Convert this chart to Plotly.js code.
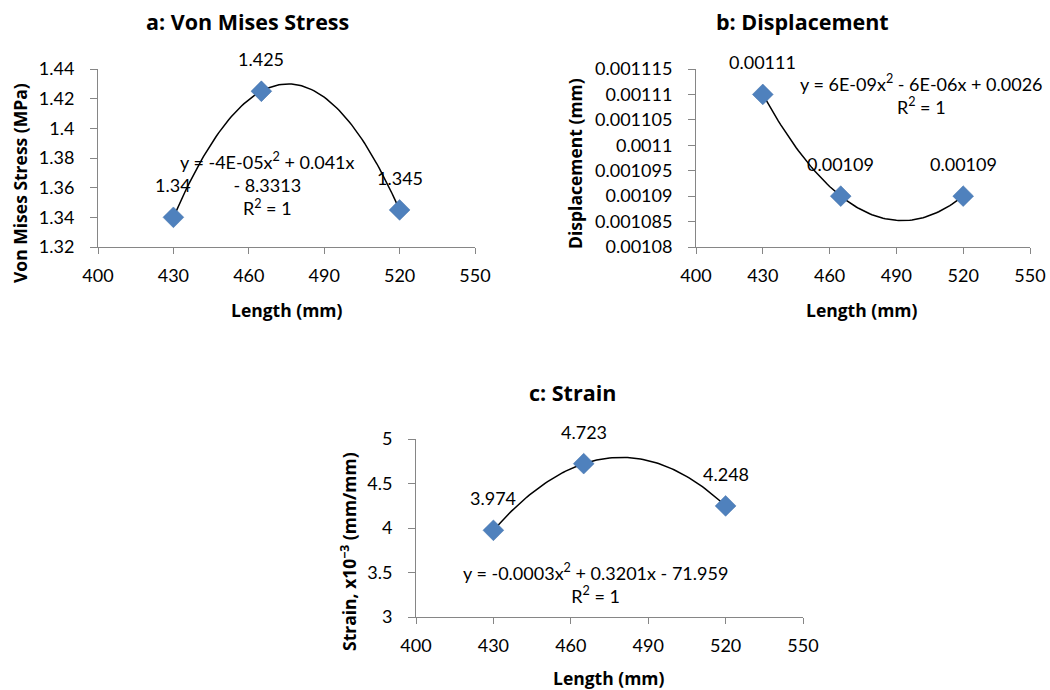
<!DOCTYPE html>
<html>
<head>
<meta charset="utf-8">
<script src="https://cdn.plot.ly/plotly-3.0.1.min.js"></script>
<style>html,body{margin:0;padding:0;background:#fff;}#chart{width:1050px;height:690px;}</style>
</head>
<body>
<div id="chart"></div>
<script>
// ---- Data ----
const lengths = [430, 465, 520];
const stress = [1.34, 1.425, 1.345];
const displacement = [0.00111, 0.00109, 0.00109];
const strain = [3.974, 4.723, 4.248];

const stressLabels = ['1.34', '1.425', '1.345'];
const displacementLabels = ['0.00111', '0.00109', '0.00109'];
const strainLabels = ['3.974', '4.723', '4.248'];

const xTicks = [400, 430, 460, 490, 520, 550];
const stressTicks = [1.32, 1.34, 1.36, 1.38, 1.4, 1.42, 1.44];
const stressTickText = ['1.32', '1.34', '1.36', '1.38', '1.4', '1.42', '1.44'];
const dispTicks = [0.00108, 0.001085, 0.00109, 0.001095, 0.0011, 0.001105, 0.00111, 0.001115];
const dispTickText = ['0.00108', '0.001085', '0.00109', '0.001095', '0.0011', '0.001105', '0.00111', '0.001115'];
const strainTicks = [3, 3.5, 4, 4.5, 5];
const strainTickText = ['3', '3.5', '4', '4.5', '5'];

const titles = ['a: Von Mises Stress', 'b: Displacement', 'c: Strain'];
const yTitles = ['Von Mises Stress (MPa)', 'Displacement (mm)', 'Strain, x10<sup>−3</sup> (mm/mm)'];
const xTitle = 'Length (mm)';
const equations = [
  'y = -4E-05x<sup>2</sup> + 0.041x<br>- 8.3313<br>R<sup>2</sup> = 1',
  'y = 6E-09x<sup>2</sup> - 6E-06x + 0.0026<br>R<sup>2</sup> = 1',
  'y = -0.0003x<sup>2</sup> + 0.3201x - 71.959<br>R<sup>2</sup> = 1'
];

// ---- Polynomial (order 2) trendline through the data, as Excel's trendline ----
function quadTrend(xs, ys) {
  const out = {x: [], y: []};
  const x0 = Math.min(...xs), x1 = Math.max(...xs);
  const n = 90;
  for (let i = 0; i <= n; i++) {
    const x = x0 + (x1 - x0) * i / n;
    let y = 0;
    for (let j = 0; j < xs.length; j++) {
      let l = 1;
      for (let k = 0; k < xs.length; k++) if (k !== j) l *= (x - xs[k]) / (xs[j] - xs[k]);
      y += ys[j] * l;
    }
    out.x.push(x); out.y.push(y);
  }
  return out;
}

const FONT = 'Lato, "Open Sans", sans-serif';
const BFONT = '"Open Sans", Lato, sans-serif';
const W = 1050, H = 690;
const px = v => v / W;
const py = v => 1 - v / H;

const series = [stress, displacement, strain];
const labels = [stressLabels, displacementLabels, strainLabels];
const traces = [];
series.forEach((ys, i) => {
  const sfx = i === 0 ? '' : String(i + 1);
  const t = quadTrend(lengths, ys);
  traces.push({x: t.x, y: t.y, xaxis: 'x' + sfx, yaxis: 'y' + sfx, mode: 'lines',
    line: {color: '#000', width: 1.5}, hoverinfo: 'skip', showlegend: false});
  traces.push({x: lengths, y: ys, xaxis: 'x' + sfx, yaxis: 'y' + sfx, mode: 'markers',
    marker: {symbol: 'diamond', size: 16, color: '#4F81BD', line: {color: '#3F6FA8', width: 0.5}},
    showlegend: false});
});

const lineCol = '#868686';
function xax(domain, anchor) {
  return {domain, anchor, range: [400, 550], tickmode: 'array', tickvals: xTicks,
    ticktext: xTicks.map(String), ticks: 'outside', ticklen: 6, tickcolor: lineCol,
    showline: true, linecolor: lineCol, linewidth: 1, showgrid: false, zeroline: false,
    tickfont: {family: FONT, size: 18, color: '#000'}, ticklabelstandoff: 6, fixedrange: true};
}
function yax(domain, anchor, range, vals, text) {
  return {domain, anchor, range, tickmode: 'array', tickvals: vals, ticktext: text,
    ticks: 'outside', ticklen: 7, tickcolor: lineCol, showline: true, linecolor: lineCol,
    linewidth: 1, showgrid: false, zeroline: false,
    tickfont: {family: FONT, size: 18, color: '#000'}, ticklabelstandoff: 12, fixedrange: true};
}

const annotations = [];
function ann(text, x, y, opts) {
  annotations.push(Object.assign({text, x: px(x), y: py(y), xref: 'paper', yref: 'paper',
    showarrow: false, xanchor: 'center', yanchor: 'middle',
    font: {family: FONT, size: 18, color: '#000'}}, opts || {}));
}
// titles
const titleFont = {family: BFONT, size: 21.5, color: '#000', weight: 'bold'};
ann(titles[0], 247, 22, {font: titleFont});
ann(titles[1], 802, 22, {font: titleFont});
ann(titles[2], 572, 392, {font: titleFont});
// axis titles
const boldAx = {family: BFONT, size: 17.5, color: '#000', weight: 'bold'};
ann(xTitle, 287, 310, {font: boldAx});
ann(xTitle, 862, 310, {font: boldAx});
ann(xTitle, 609, 678, {font: boldAx});
ann(yTitles[0], 20, 183, {font: boldAx, textangle: -90});
ann(yTitles[1], 575, 164, {font: boldAx, textangle: -90});
ann(yTitles[2], 348, 552, {font: boldAx, textangle: -90});
// equations
ann(equations[0], 267, 184);
ann(equations[1], 921, 94);
ann(equations[2], 595, 583);
// data labels
series.forEach((ys, i) => {
  const sfx = i === 0 ? '' : String(i + 1);
  ys.forEach((v, j) => {
    annotations.push({text: labels[i][j], x: lengths[j], y: v, xref: 'x' + sfx, yref: 'y' + sfx,
      showarrow: false, xanchor: 'center', yanchor: 'middle', yshift: 32,
      font: {family: FONT, size: 18, color: '#000'}});
  });
});

const layout = {
  width: W, height: H, margin: {l: 0, r: 0, t: 0, b: 0},
  paper_bgcolor: '#fff', plot_bgcolor: 'rgba(0,0,0,0)', showlegend: false,
  xaxis: xax([px(98), px(475)], 'y'),
  yaxis: yax([py(247), py(69)], 'x', [1.32, 1.44], stressTicks, stressTickText),
  xaxis2: xax([px(696), px(1030)], 'y2'),
  yaxis2: yax([py(247), py(69)], 'x2', [0.00108, 0.001115], dispTicks, dispTickText),
  xaxis3: xax([px(416), px(803)], 'y3'),
  yaxis3: yax([py(617), py(439)], 'x3', [3, 5], strainTicks, strainTickText),
  annotations
};

Plotly.newPlot('chart', traces, layout, {displayModeBar: false, staticPlot: true});
</script>
</body>
</html>
